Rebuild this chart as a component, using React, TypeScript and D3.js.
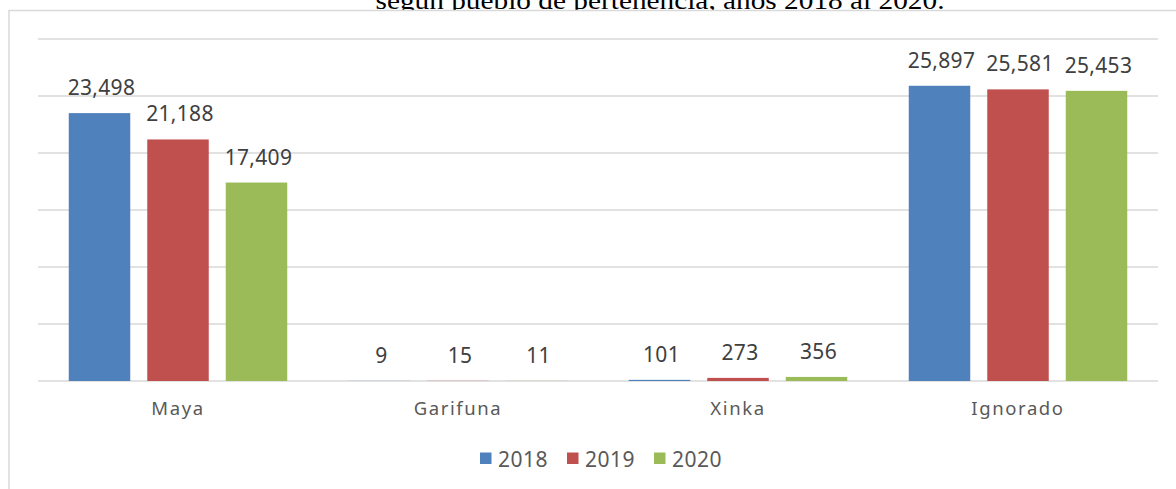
import React from "react";
import * as d3 from "d3";

const categories = ["Maya", "Garifuna", "Xinka", "Ignorado"];
const years = ["2018", "2019", "2020"];
const values2018 = [23498, 9, 101, 25897];
const values2019 = [21188, 15, 273, 25581];
const values2020 = [17409, 11, 356, 25453];
const yTicks = [0, 5000, 10000, 15000, 20000, 25000, 30000];
const colors = ["#4F81BD", "#C0504D", "#9BBB59"];
const titleText = "según pueblo de pertenencia, años 2018 al 2020.";

const W = 1176;
const H = 489;
const plotLeft = 38;
const plotRight = 1158;
const plotTop = 39;
const plotBottom = 381;
const FONT = "'Century Gothic', 'Noto Sans', 'Open Sans', sans-serif";

export default function App() {
  const series = [values2018, values2019, values2020];
  const x0 = d3.scaleBand<string>().domain(categories).range([plotLeft, plotRight]).padding(0);
  const y = d3.scaleLinear().domain([0, 30000]).range([plotBottom, plotTop]);
  const barW = 61.5;
  const step = 78.5;
  const fmt = d3.format(",");

  return (
    <svg width={W} height={H} style={{ position: "absolute", left: 0, top: 0 }}>
      <rect x={0} y={0} width={W} height={H} fill="#fff" />
      <text
        x={660}
        y={9}
        textAnchor="middle"
        fontFamily="'Times New Roman', 'Liberation Serif', serif"
        fontSize={26}
        textLength={569}
        lengthAdjust="spacingAndGlyphs"
        fill="#000"
      >
        {titleText}
      </text>
      <rect x={9} y={10.5} width={W} height={H} fill="#fff" stroke="#d9d9d9" strokeWidth={1.5} />
      {yTicks.map((t) => (
        <line key={t} x1={plotLeft} x2={plotRight} y1={y(t)} y2={y(t)} stroke="#d9d9d9" strokeWidth={1.5} />
      ))}
      {categories.map((c, ci) => {
        const cx = (x0(c) as number) + x0.bandwidth() / 2;
        return (
          <g key={c}>
            {series.map((s, si) => {
              const bx = cx + (si - 1) * step - barW / 2;
              const top = y(s[ci]);
              return (
                <g key={si}>
                  <rect x={bx} y={top} width={barW} height={plotBottom - top} fill={colors[si]} />
                  <text
                    x={bx + barW / 2 + 2}
                    y={top - 18}
                    textAnchor="middle"
                    fontFamily={FONT}
                    fontSize={21}
                    letterSpacing={0.3}
                    fill="#404040"
                  >
                    {fmt(s[ci])}
                  </text>
                </g>
              );
            })}
            <text x={cx} y={415} textAnchor="middle" fontFamily={FONT} fontSize={18.5} letterSpacing={1.6} fill="#595959">
              {c}
            </text>
          </g>
        );
      })}
      {years.map((yr, i) => {
        const lx = 480 + i * 87;
        return (
          <g key={yr}>
            <rect x={lx} y={452.5} width={11.5} height={11.5} fill={colors[i]} />
            <text x={lx + 18} y={466.5} fontFamily={FONT} fontSize={21} letterSpacing={0.5} fill="#595959">
              {yr}
            </text>
          </g>
        );
      })}
    </svg>
  );
}
